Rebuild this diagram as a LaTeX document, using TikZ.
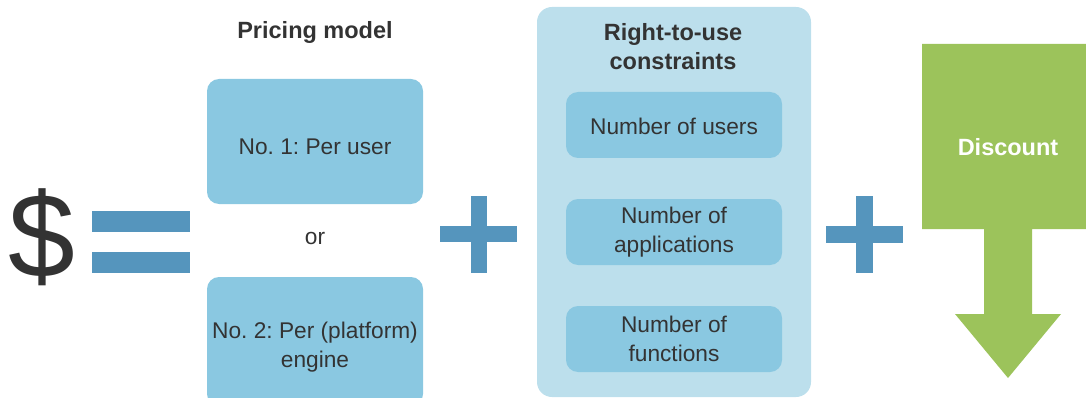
\documentclass[tikz,border=0pt]{standalone}
\usepackage{fontspec}
\setmainfont{Liberation Sans}
\frenchspacing
\definecolor{txt}{HTML}{333333}
\definecolor{opblue}{HTML}{5595BD}
\definecolor{boxblue}{HTML}{8AC8E1}
\definecolor{panelblue}{HTML}{BCDFEC}
\definecolor{dgreen}{HTML}{9CC35B}
\begin{document}
\begin{tikzpicture}[x=1pt,y=-1pt,
  boxstyle/.style={fill=boxblue,draw=none,rounded corners=12pt},
  opstyle/.style={fill=opblue,draw=none},
  lbl/.style={text=txt,font=\fontsize{22.7}{29}\selectfont,align=center,inner sep=0pt},
  ttl/.style={text=txt,font=\fontsize{23.5}{29}\selectfont\bfseries,align=center,inner sep=0pt}]
\useasboundingbox (0,0) rectangle (1086,398);
% dollar
\node[text=txt,font=\fontsize{120}{120}\selectfont,inner sep=0pt] (dollar) at (42,237) {\$};
% equals
\fill[opstyle] (92,211) rectangle (190,232);
\fill[opstyle] (92,252) rectangle (190,273);
% pricing model
\node[ttl] (pm) at (315,32) {Pricing model};
\draw[boxstyle] (207,79) rectangle (423,204);
\node[lbl] (p1) at (315,147) {No. 1: Per user};
\node[lbl] (or) at (315,239) {or};
\draw[boxstyle] (207,277) rectangle (423,406);
\node[lbl] (p2) at (315,347) {No. 2: Per (platform)\\engine};
% plus 1
\fill[opstyle] (440,226) rectangle (517,242);
\fill[opstyle] (471,196) rectangle (487,273);
% right-to-use panel
\draw[fill=panelblue,draw=none,rounded corners=15pt] (537,7) rectangle (811,397);
\node[ttl] (rt) at (673,47) {Right-to-use\\constraints};
\draw[boxstyle] (566,92) rectangle (782,158);
\node[lbl] (c1) at (674,126) {Number of users};
\draw[boxstyle] (566,199) rectangle (782,265);
\node[lbl] (c2) at (674,232) {Number of\\applications};
\draw[boxstyle] (566,306) rectangle (782,372);
\node[lbl] (c3) at (674,339) {Number of\\functions};
% plus 2
\fill[opstyle] (826,226) rectangle (903,243);
\fill[opstyle] (856,196) rectangle (873,273);
% discount arrow
\fill[dgreen] (922,44) -- (1086,44) -- (1086,229) -- (1032,229) -- (1032,314) -- (1061,314)
  -- (1008,378) -- (955,314) -- (984,314) -- (984,229) -- (922,229) -- cycle;
\node[text=white,font=\fontsize{23.5}{29}\selectfont\bfseries,inner sep=0pt] (disc) at (1008,147) {Discount};
\end{tikzpicture}
\end{document}
